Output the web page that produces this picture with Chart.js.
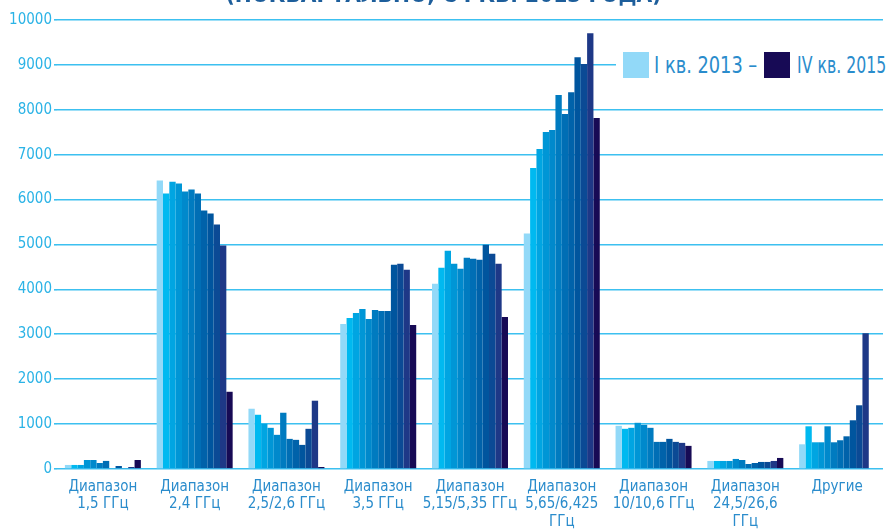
<!DOCTYPE html>
<html>
<head>
<meta charset="utf-8">
<script src="https://cdn.jsdelivr.net/npm/chart.js@4.4.1/dist/chart.umd.min.js"></script>
<style>
  html, body { margin:0; padding:0; background:#fff; }
  #wrap { position:relative; width:887px; height:529px; overflow:hidden; }
  #title { position:absolute; left:0; width:887px; top:-18px; text-align:center;
    font-family:"DejaVu Sans Condensed","DejaVu Sans",sans-serif; font-weight:bold; font-size:22.5px;
    color:#1d5e9b; line-height:24px; white-space:nowrap; }
  #legend { position:absolute; left:616px; top:40px; width:271px; height:58px; background:#fff; }
  .box { position:absolute; top:12px; width:26px; height:26px; }
  .lt { position:absolute; top:10px; font-family:"DejaVu Sans Condensed","DejaVu Sans",sans-serif;
    font-size:23px; line-height:30px; color:#2a8ccc; white-space:nowrap;
    transform-origin:0 50%; }
</style>
</head>
<body>
<div id="wrap">
  <canvas id="c" width="887" height="529"></canvas>
  <div id="title">(ПОКВАРТАЛЬНО, С I КВ. 2013 ГОДА)</div>
  <div id="legend">
    <div class="box" style="left:7px;background:#92d9f8"></div>
    <div class="lt" style="left:38px;transform:scaleX(0.86)">I кв. 2013 –</div>
    <div class="box" style="left:148px;background:#170a55"></div>
    <div class="lt" style="left:181px;transform:scaleX(0.76)">IV кв. 2015</div>
  </div>
</div>
<script>
const categories = [
  ['Диапазон','1,5 ГГц'],
  ['Диапазон','2,4 ГГц'],
  ['Диапазон','2,5/2,6 ГГц'],
  ['Диапазон','3,5 ГГц'],
  ['Диапазон','5,15/5,35 ГГц'],
  ['Диапазон','5,65/6,425','ГГц'],
  ['Диапазон','10/10,6 ГГц'],
  ['Диапазон','24,5/26,6','ГГц'],
  ['Другие']
];
const quarters = ['I кв. 2013','II кв. 2013','III кв. 2013','IV кв. 2013',
                  'I кв. 2014','II кв. 2014','III кв. 2014','IV кв. 2014',
                  'I кв. 2015','II кв. 2015','III кв. 2015','IV кв. 2015'];
// values per band, one entry per quarter
const band_1_5   = [90, 90, 90, 200, 200, 134, 180, 20, 67, 20, 45, 200];
const band_2_4   = [6423, 6134, 6400, 6356, 6178, 6223, 6134, 5755, 5688, 5443, 4976, 1720];
const band_2_5   = [1342, 1208, 1007, 917, 761, 1253, 671, 649, 537, 895, 1521, 45];
const band_3_5   = [3229, 3362, 3473, 3562, 3340, 3540, 3518, 3518, 4549, 4571, 4438, 3207];
const band_5_15  = [4127, 4482, 4860, 4571, 4460, 4704, 4682, 4660, 4993, 4793, 4571, 3384];
const band_5_65  = [5244, 6704, 7127, 7504, 7549, 8327, 7904, 8393, 9171, 9022, 9704, 7816];
const band_10    = [962, 895, 917, 1029, 984, 917, 604, 604, 671, 604, 582, 515];
const band_24_5  = [179, 179, 179, 179, 224, 201, 112, 134, 157, 157, 179, 246];
const band_other = [550, 951, 595, 595, 951, 595, 640, 728, 1085, 1419, 3022, 0];
const yTicks = [0,1000,2000,3000,4000,5000,6000,7000,8000,9000,10000];

const bands = [band_1_5, band_2_4, band_2_5, band_3_5, band_5_15, band_5_65, band_10, band_24_5, band_other];
const colors = ['#92d9f8','#00b9f0','#00a5e2','#0096d6','#0089cc','#007bc0',
                '#006eb5','#0062aa','#00559e','#0b4a95','#1e3887','#170a55'];

const datasets = quarters.map((q, i) => ({
  label: q,
  data: bands.map(b => b[i]),
  backgroundColor: colors[i],
  borderWidth: 0,
  barPercentage: 1.0,
  categoryPercentage: 0.828
}));

new Chart(document.getElementById('c'), {
  type: 'bar',
  data: { labels: categories, datasets },
  options: {
    responsive: false,
    devicePixelRatio: 1,
    animation: false,
    layout: { padding: { top: 20, right: 4, left: 0, bottom: 0 } },
    plugins: { legend: { display: false }, tooltip: { enabled: false }, title: { display: false } },
    scales: {
      x: {
        grid: { display: false, drawTicks: false },
        border: { display: false },
        ticks: {
          color: '#2a8ccc', maxRotation: 0, autoSkip: false, padding: 9,
          font: { family: '"DejaVu Sans Condensed","DejaVu Sans",sans-serif', size: 15, lineHeight: 1.17 }
        },
        afterFit: s => { s.height = 60; }
      },
      y: {
        min: 0, max: 10000,
        afterBuildTicks: s => { s.ticks = yTicks.map(v => ({ value: v })); },
        border: { display: false },
        grid: { color: '#3cc0f0', lineWidth: 1.6, tickLength: 3, drawTicks: true },
        ticks: {
          color: '#2bb3e6', padding: 2,
          callback: v => String(v),
          font: { family: '"DejaVu Sans Condensed","DejaVu Sans",sans-serif', size: 15 }
        },
        afterFit: s => { s.width = 57; }
      }
    }
  }
});
</script>
</body>
</html>
